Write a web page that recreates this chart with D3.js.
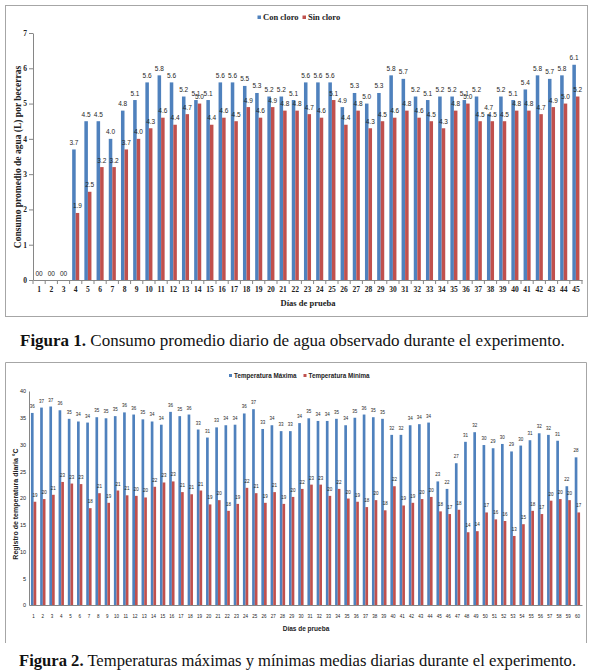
<!DOCTYPE html>
<html>
<head>
<meta charset="utf-8">
<script src="https://cdn.jsdelivr.net/npm/d3@7"></script>
<style>
  body { margin: 0; background: #fff; }
  svg { display: block; }
</style>
</head>
<body>
<script>
// ---- data: figure 1, water consumption (L) per calf ----
const waterDays = [1,2,3,4,5,6,7,8,9,10,11,12,13,14,15,16,17,18,19,20,21,22,23,
                   24,25,26,27,28,29,30,31,32,33,34,35,36,37,38,39,40,41,42,43,44,45];
const conCloro = [0,0,0,3.7,4.5,4.5,4.0,4.8,5.1,5.6,5.8,5.6,5.2,5.1,5.1,5.6,5.6,5.5,5.3,5.2,5.2,5.1,5.6,
                  5.6,5.6,4.9,5.3,5.0,5.3,5.8,5.7,5.2,5.1,5.2,5.2,5.1,5.2,4.7,5.2,5.1,5.4,5.8,5.7,5.8,6.1];
const sinCloro = [0,0,0,1.9,2.5,3.2,3.2,3.7,4.0,4.3,4.6,4.4,4.7,5.0,4.4,4.6,4.5,4.9,4.6,4.9,4.8,4.8,4.7,
                  4.6,5.1,4.4,4.8,4.3,4.5,4.6,4.8,4.6,4.5,4.3,4.8,5.0,4.5,4.5,4.5,4.8,4.8,4.7,4.9,5.0,5.2];
const waterTicks = [0,1,2,3,4,5,6,7];

// ---- data: figure 2, daily max / min temperature (°C) ----
const tempDays = [1,2,3,4,5,6,7,8,9,10,11,12,13,14,15,16,17,18,19,20,21,22,23,24,25,26,27,28,29,30,
                  31,32,33,34,35,36,37,38,39,40,41,42,43,44,45,46,47,48,49,50,51,52,53,54,55,56,57,58,59,60];
const tempMax = [35.9,36.9,37.1,36.4,34.8,34.3,34.1,35.1,34.9,35.3,36.0,35.6,34.7,34.3,33.7,36.1,35.3,35.6,32.8,31.3,
                 33.2,33.6,33.7,35.8,36.6,32.9,33.6,32.5,32.5,34.0,34.9,34.4,34.4,34.8,33.6,35.0,35.6,35.1,34.8,31.8,
                 31.8,33.6,33.8,34.1,23.1,21.7,26.5,30.5,32.3,29.9,29.3,30.1,28.7,29.8,30.8,32.1,31.8,30.7,22.2,27.6];
const tempMin = [19.3,19.8,20.6,23.0,22.7,22.6,18.1,20.9,19.1,21.4,20.5,20.4,20.1,22.1,22.9,23.1,21.1,20.7,21.4,18.8,
                 19.6,17.6,18.9,21.9,20.9,19.1,21.1,18.9,20.2,21.7,22.5,22.5,20.4,21.7,19.9,19.3,18.3,19.6,17.7,22.2,
                 18.6,19.1,19.8,20.2,17.5,17.0,17.8,13.6,13.8,17.3,16.0,15.7,12.9,15.1,17.6,17.0,19.5,19.8,19.6,17.3];
const tempTicks = [0,5,10,15,20,25,30,35,40];

const blue = "#4f81bd", red = "#c0504d", axisGrey = "#868686";
const serif = "'Liberation Serif', 'Times New Roman', serif";
const sans = "'Liberation Sans', Arial, sans-serif";

let svg = d3.select("body").append("svg")
    .attr("width", 594)
    .attr("height", 670);

// frames
svg.append("rect")
    .attr("x", 5.5).attr("y", 5.5).attr("width", 582).attr("height", 311)
    .attr("fill", "none").attr("stroke", "#a6a6a6");
svg.append("path")
    .attr("d", "M5.5,643V362.5H586.5V643")
    .attr("fill", "none").attr("stroke", "#a6a6a6");

function createBarChart(o) {
    let g = svg.append("g");
    let x = d3.scaleBand().domain(o.days).range(o.xRange).paddingInner(0.42).paddingOuter(0.21);
    let xs = d3.scaleBand().domain([0, 1]).range([0, x.bandwidth()]);
    let y = d3.scaleLinear().domain(o.yDomain).range(o.yRange);

    // bars
    o.series.forEach((s, i) => {
        g.append("g").selectAll("rect")
            .data(s.values)
            .enter().append("rect")
            .attr("x", (d, j) => x(o.days[j]) + xs(i))
            .attr("y", d => y(d))
            .attr("width", xs.bandwidth())
            .attr("height", d => y(0) - y(d))
            .attr("fill", s.color);
    });

    // value labels
    o.series.forEach((s, i) => {
        g.append("g").selectAll("text")
            .data(s.values)
            .enter().append("text")
            .attr("x", (d, j) => x(o.days[j]) + xs(i) + xs.bandwidth() / 2)
            .attr("y", d => y(d) - o.labelGap)
            .attr("text-anchor", "middle")
            .style("font-family", sans)
            .style("font-size", o.labelSize + "px")
            .style("fill", "#262626")
            .text(o.labelFormat);
    });

    // y axis
    let yAxis = g.append("g")
        .attr("transform", `translate(${o.xRange[0]},0)`)
        .call(d3.axisLeft(y).tickValues(o.ticks).tickFormat(d3.format("d"))
            .tickSize(o.yTickSize).tickSizeOuter(0).tickPadding(o.yPad));
    // x axis
    let xAxis = g.append("g")
        .attr("transform", `translate(0,${o.yRange[0]})`)
        .call(d3.axisBottom(x).tickSize(0).tickSizeOuter(0).tickPadding(o.xPad));

    [yAxis, xAxis].forEach(a => {
        a.select(".domain").attr("stroke", axisGrey);
        a.selectAll(".tick line").attr("stroke", axisGrey);
        a.selectAll("text")
            .style("font-family", o.tickFont)
            .style("font-weight", o.tickWeight)
            .style("fill", "#222");
    });
    yAxis.selectAll("text").style("font-size", o.yTickSize2 + "px");
    xAxis.selectAll("text").style("font-size", o.xTickSize + "px");

    // category boundary ticks
    if (o.boundaryTicks) {
        let edges = o.days.map(d => x(d) + x.bandwidth() / 2 - x.step() / 2);
        edges.push(o.xRange[1]);
        g.append("g").selectAll("line")
            .data(edges)
            .enter().append("line")
            .attr("x1", d => d).attr("x2", d => d)
            .attr("y1", o.yRange[0]).attr("y2", o.yRange[0] + 4)
            .attr("stroke", axisGrey);
    }

    // legend
    o.series.forEach((s, i) => {
        let lg = g.append("g").attr("transform", `translate(${o.legend[i][0]},${o.legend[i][1]})`);
        lg.append("rect")
            .attr("x", 0).attr("y", -o.legendBox - 1)
            .attr("width", o.legendBox).attr("height", o.legendBox)
            .attr("fill", s.color);
        lg.append("text")
            .attr("x", o.legendBox + 2)
            .style("font-family", o.titleFont)
            .style("font-weight", "bold")
            .style("font-size", o.legendSize + "px")
            .style("fill", "#222")
            .text(s.name);
    });

    // axis titles
    g.append("text")
        .attr("transform", `translate(${o.yTitlePos[0]},${o.yTitlePos[1]}) rotate(-90)`)
        .attr("text-anchor", "middle")
        .style("font-family", o.titleFont)
        .style("font-weight", "bold")
        .style("font-size", o.yTitleSize + "px")
        .style("fill", "#222")
        .text(o.yTitle);
    g.append("text")
        .attr("x", o.xTitlePos[0]).attr("y", o.xTitlePos[1])
        .attr("text-anchor", "middle")
        .style("font-family", o.titleFont)
        .style("font-weight", "bold")
        .style("font-size", o.xTitleSize + "px")
        .style("fill", "#222")
        .text("Días de prueba");
}

createBarChart({
    days: waterDays,
    series: [{ name: "Con cloro", values: conCloro, color: blue },
             { name: "Sin cloro", values: sinCloro, color: red }],
    xRange: [33, 582], yRange: [280, 33], yDomain: [0, 7], ticks: waterTicks,
    labelGap: 4.5, labelSize: 6.5,
    labelFormat: d => d === 0 ? "0" : d3.format(".1f")(d),
    tickFont: serif, tickWeight: "bold", yTickSize: 4, yPad: 2, xPad: 7,
    yTickSize2: 7.5, xTickSize: 7.5, boundaryTicks: true,
    legend: [[257.5, 20], [302.5, 20]], legendBox: 3.5, legendSize: 8.5,
    titleFont: serif, yTitle: "Consumo promedio de agua (L) por becerras",
    yTitlePos: [21, 157], yTitleSize: 9.5,
    xTitlePos: [308, 306], xTitleSize: 8.5
});

createBarChart({
    days: tempDays,
    series: [{ name: "Temperatura Máxima", values: tempMax, color: blue },
             { name: "Temperatura Mínima", values: tempMin, color: red }],
    xRange: [29, 582], yRange: [605, 391], yDomain: [0, 40], ticks: tempTicks,
    labelGap: 5, labelSize: 4.5,
    labelFormat: d => Math.round(d),
    tickFont: sans, tickWeight: "normal", yTickSize: 0, yPad: 3, xPad: 10,
    yTickSize2: 5.5, xTickSize: 4.5, boundaryTicks: false,
    legend: [[229, 378], [303.5, 378]], legendBox: 3, legendSize: 6.3,
    titleFont: sans, yTitle: "Registro de temperatura diaria °C",
    yTitlePos: [17.5, 504], yTitleSize: 7,
    xTitlePos: [306, 630.5], xTitleSize: 6.5
});

// captions
function caption(label, rest, x, y, size) {
    let t = svg.append("text")
        .attr("x", x).attr("y", y)
        .style("font-family", serif)
        .style("font-size", size + "px")
        .style("fill", "#111");
    t.append("tspan").style("font-weight", "bold").text(label);
    t.append("tspan").text(rest);
}
caption("Figura 1.", " Consumo promedio diario de agua observado durante el experimento.", 20, 346, 17);
caption("Figura 2.", " Temperaturas máximas y mínimas medias diarias durante el experimento.", 19, 666, 16.6);
</script>
</body>
</html>
